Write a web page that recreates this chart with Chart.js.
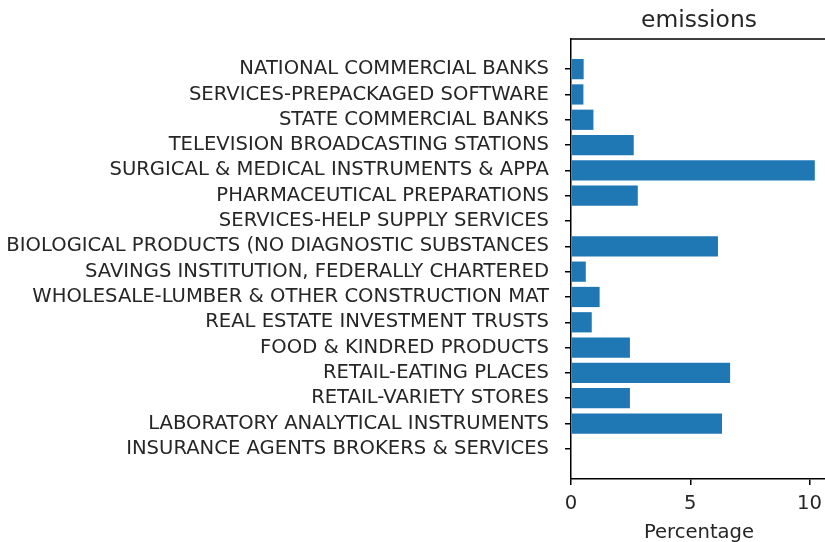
<!DOCTYPE html>
<html>
<head>
<meta charset="utf-8">
<script src="https://cdn.jsdelivr.net/npm/chart.js@4/dist/chart.umd.min.js"></script>
<style>
  html, body { margin: 0; padding: 0; overflow: hidden; background: #fff; }
  #wrap { width: 830px; height: 542px; }
</style>
</head>
<body>
<div id="wrap"><canvas id="c" width="830" height="542"></canvas></div>
<script>
const chartTitle = "emissions";
const xAxisLabel = "Percentage";
const categories = [
  "NATIONAL COMMERCIAL BANKS",
  "SERVICES-PREPACKAGED SOFTWARE",
  "STATE COMMERCIAL BANKS",
  "TELEVISION BROADCASTING STATIONS",
  "SURGICAL & MEDICAL INSTRUMENTS & APPA",
  "PHARMACEUTICAL PREPARATIONS",
  "SERVICES-HELP SUPPLY SERVICES",
  "BIOLOGICAL PRODUCTS (NO DIAGNOSTIC SUBSTANCES",
  "SAVINGS INSTITUTION, FEDERALLY CHARTERED",
  "WHOLESALE-LUMBER & OTHER CONSTRUCTION MAT",
  "REAL ESTATE INVESTMENT TRUSTS",
  "FOOD & KINDRED PRODUCTS",
  "RETAIL-EATING PLACES",
  "RETAIL-VARIETY STORES",
  "LABORATORY ANALYTICAL INSTRUMENTS",
  "INSURANCE AGENTS BROKERS & SERVICES"
];
const percentages = [0.53, 0.52, 0.94, 2.63, 10.22, 2.80, 0.0, 6.16, 0.62, 1.20, 0.87, 2.47, 6.67, 2.47, 6.33, 0.0];
const xTicks = [0, 5, 10];

const FONT = "'DejaVu Sans', 'Liberation Sans', sans-serif";
const TEXT = "#262626";

const titlePlugin = {
  id: 'axTitle',
  afterDraw(chart) {
    const {ctx, chartArea} = chart;
    ctx.save();
    // top spine
    ctx.strokeStyle = '#000';
    ctx.lineWidth = 1.5;
    ctx.beginPath();
    ctx.moveTo(chartArea.left - 0.75, chartArea.top);
    ctx.lineTo(chartArea.right, chartArea.top);
    ctx.stroke();
    // title
    ctx.fillStyle = TEXT;
    ctx.font = "23.4px " + FONT;
    ctx.textAlign = 'center';
    ctx.textBaseline = 'alphabetic';
    ctx.fillText(chartTitle, (chartArea.left + chartArea.right) / 2, 27);
    ctx.restore();
  }
};

const n = categories.length;
const maxVal = Math.max(...percentages);
const yPad = (n - 1 + 0.8) * 0.05;

new Chart(document.getElementById('c'), {
  type: 'bar',
  data: {
    datasets: [{
      data: percentages.map((v, i) => ({x: v, y: i})),
      backgroundColor: '#1f77b4',
      borderWidth: 0,
      categoryPercentage: 0.8,
      barPercentage: 1.0
    }]
  },
  options: {
    indexAxis: 'y',
    responsive: false,
    animation: false,
    devicePixelRatio: 1,
    layout: { padding: { top: 39, right: 3, left: 0, bottom: 0 } },
    plugins: { legend: { display: false }, tooltip: { enabled: false }, title: { display: false } },
    scales: {
      x: {
        type: 'linear',
        position: 'bottom',
        min: 0,
        max: maxVal * 1.05,
        offset: false,
        afterBuildTicks(scale) { scale.ticks = xTicks.map(v => ({value: v})); },
        afterFit(scale) { scale.height = 63; },
        grid: { display: true, offset: false, drawOnChartArea: false, drawTicks: true, tickLength: 6, color: '#000', lineWidth: 1.5 },
        border: { display: true, color: '#000', width: 1.5 },
        ticks: { color: TEXT, font: { family: FONT, size: 19.6 }, padding: 7, maxRotation: 0 },
        title: { display: true, text: xAxisLabel, color: TEXT, font: { family: FONT, size: 19.6 }, padding: { top: 0, bottom: -3 } }
      },
      y: {
        type: 'linear',
        position: 'left',
        reverse: true,
        offset: false,
        min: -0.4 - yPad,
        max: n - 1 + 0.4 + yPad,
        afterBuildTicks(scale) { scale.ticks = categories.map((c, i) => ({value: i})); },
        afterFit(scale) { scale.width = 571; },
        grid: { display: true, offset: false, drawOnChartArea: false, drawTicks: true, tickLength: 6, color: '#000', lineWidth: 1.5 },
        border: { display: true, color: '#000', width: 1.5 },
        ticks: {
          autoSkip: false,
          color: TEXT,
          font: { family: FONT, size: 19.6 },
          padding: 16,
          callback: (v) => categories[v]
        }
      }
    }
  },
  plugins: [titlePlugin]
});
</script>
</body>
</html>
